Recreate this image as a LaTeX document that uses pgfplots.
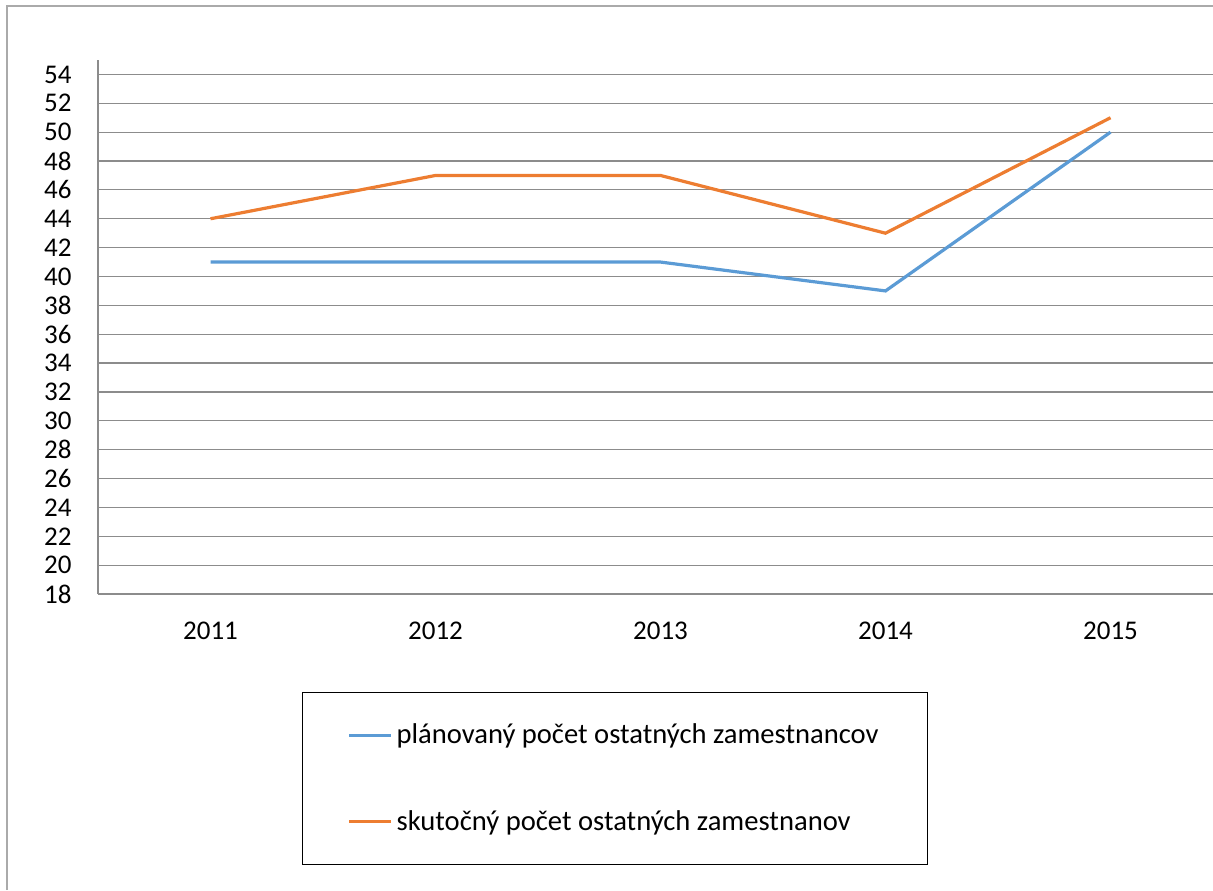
\documentclass[border=0pt]{standalone}
\usepackage{fontspec}
\setmainfont{Carlito}
\usepackage{pgfplots}
\pgfplotsset{compat=1.18}
\definecolor{blu}{RGB}{91,155,213}
\definecolor{org}{RGB}{237,125,49}
\definecolor{gridc}{RGB}{140,140,140}
\definecolor{framec}{RGB}{170,170,170}
\begin{document}
\begin{tikzpicture}
\useasboundingbox (0,0) rectangle (606.5pt,445pt);
\draw[framec, line width=0.8pt] (3.5pt,0) -- (3.5pt,442pt) -- (606.5pt,442pt);
\begin{axis}[
 at={(49pt,148pt)}, anchor=south west,
 scale only axis, width=562.5pt, height=267pt,
 xmin=-0.5, xmax=4.5, ymin=18, ymax=55,
 xtick={0,1,2,3,4}, xticklabels={2011,2012,2013,2014,2015},
 ytick={18,20,...,54},
 ymajorgrids, grid style={gridc, line width=0.6pt},
 axis lines=left, axis line style={-, gridc, line width=0.6pt},
 major tick length=0pt,
 tick label style={font=\fontsize{13.5}{15}\selectfont},
 /pgf/number format/assume math mode=true,
 yticklabel style={inner sep=0pt, xshift=-13pt},
 xticklabel style={inner sep=0pt, yshift=-13.6pt},
 legend style={at={(0.1813,-0.1836)}, anchor=north west, draw=black, line width=0.6pt,
   font=\fontsize{14.3}{16}\selectfont, inner xsep=22.5pt, inner ysep=13.5pt, row sep=28pt},
 legend cell align=left,
 legend image code/.code={\draw[#1, line width=1.5pt] (0pt,0pt) -- (21pt,0pt);},
]
\addplot[blu, line width=1.6pt] coordinates {(0,41) (1,41) (2,41) (3,39) (4,50)};
\addlegendentry{plánovaný počet ostatných zamestnancov\hspace{1.5pt}}
\addplot[org, line width=1.6pt] coordinates {(0,44) (1,47) (2,47) (3,43) (4,51)};
\addlegendentry{skutočný počet ostatných zamestnanov}
\end{axis}
\end{tikzpicture}
\end{document}
